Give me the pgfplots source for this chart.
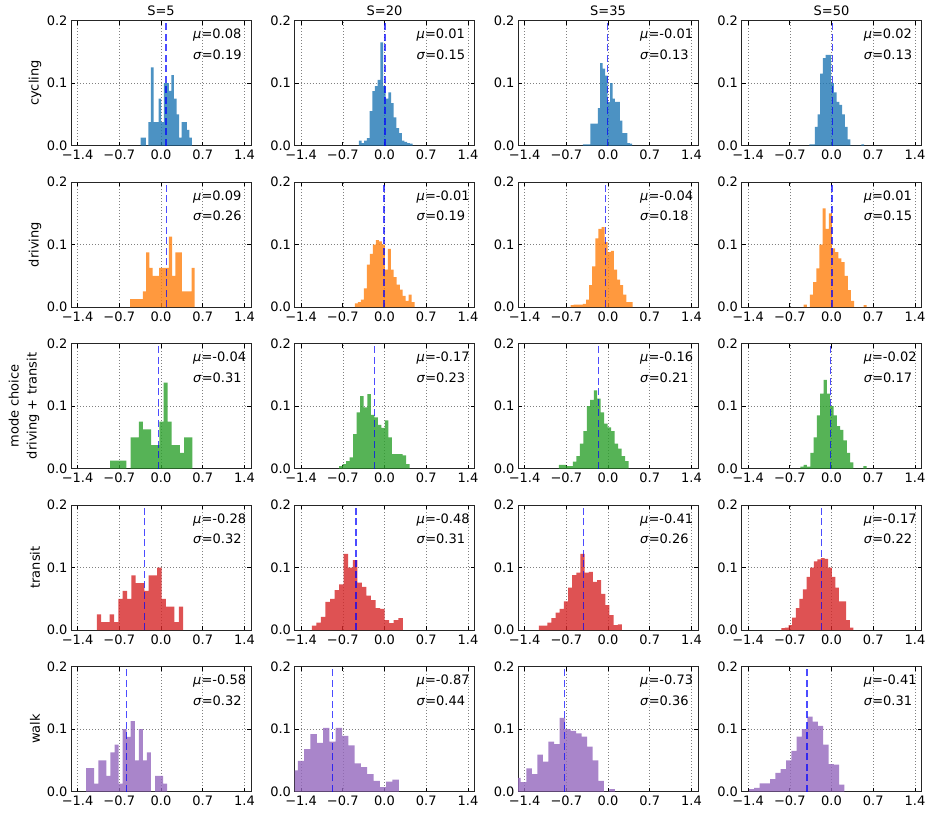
\documentclass[border=0pt]{standalone}
\usepackage{fontspec}
\setmainfont{DejaVu Sans}
\usepackage{pgfplots}
\pgfplotsset{compat=1.18}
\definecolor{C0}{RGB}{31,119,180}
\definecolor{C1}{RGB}{255,127,14}
\definecolor{C2}{RGB}{44,160,44}
\definecolor{C3}{RGB}{214,39,40}
\definecolor{C4}{RGB}{148,103,189}
\newcommand\annfont{\fontsize{13}{15}\selectfont}
\newcommand\labfont{\fontsize{13}{15}\selectfont}
\pgfplotsset{
  hist/.style={
    scale only axis, width=180pt, height=125pt,
    anchor=south west,
    xmin=-1.51, xmax=1.51, ymin=0, ymax=0.2,
    xtick={-1.4,-0.7,0,0.7,1.4},
    xticklabels={−1.4,−0.7,0.0,0.7,1.4},
    ytick={0,0.1,0.2},
    yticklabels={0.0,0.1,0.2},
    tick pos=both, xticklabel pos=bottom, yticklabel pos=left,
    tick align=inside, major tick length=4pt,
    tick style={black, line width=0.7pt},
    axis line style={black!85, line width=0.8pt},
    grid=major,
    major grid style={black!50, line width=0.5pt, dash pattern=on 1pt off 2pt},
    tick label style={font=\labfont},
    xticklabel style={yshift=-1pt},
    clip mode=individual,
  },
  meanline/.style={blue, opacity=0.7, line width=1.5pt, dash pattern=on 7pt off 3.5pt},
}
\newcommand\panel[8]{%
\begin{axis}[hist, at={(#1pt,#2pt)}]
\addplot[ybar interval, fill=#3, fill opacity=0.8, draw=none] coordinates {#4};
\addplot[meanline] coordinates {(#5,0) (#5,0.2)};
\node[anchor=west, font=\annfont, inner sep=0pt] at (rel axis cs:0.678,0.88) {\textit{μ}=#6};
\node[anchor=west, font=\annfont, inner sep=0pt] at (rel axis cs:0.678,0.728) {\textit{σ}=#7};
#8
\end{axis}}
\newcommand\ttl[1]{\node[anchor=south, font=\labfont, inner sep=0pt, yshift=5pt] at (rel axis cs:0.5,1) {#1};}
\newcommand\ylab[1]{\node[rotate=90, font=\labfont] at (rel axis cs:-0.2,0.5) {#1};}
\begin{document}
\begin{tikzpicture}
\path[use as bounding box] (0,0) rectangle (931pt,-812pt);
% ---- row 1: cycling ----
\panel{71}{-145.5}{C0}{(-0.340,0.0125) (-0.297,0.0125) (-0.254,0) (-0.211,0.0375) (-0.168,0.125) (-0.125,0.0375) (-0.082,0.0375) (-0.039,0.075) (0.004,0.0375) (0.047,0.1) (0.089,0.1) (0.132,0.0875) (0.175,0.1125) (0.218,0.075) (0.261,0.05) (0.304,0.0125) (0.347,0.0375) (0.390,0.0375) (0.433,0.025) (0.476,0.0125) (0.519,0)}{0.08}{0.08}{0.19}{\ttl{S=5}\ylab{cycling}}
\panel{294.5}{-145.5}{C0}{(-0.430,0.008) (-0.385,0.004) (-0.340,0.008) (-0.295,0.012) (-0.250,0.055) (-0.205,0.087) (-0.160,0.095) (-0.115,0.105) (-0.070,0.165) (-0.025,0.095) (0.020,0.075) (0.065,0.085) (0.110,0.068) (0.155,0.045) (0.200,0.028) (0.245,0.02) (0.290,0.008) (0.335,0.006) (0.380,0.004) (0.425,0.003) (0.470,0)}{0.01}{0.01}{0.15}{\ttl{S=20}}
\panel{518}{-145.5}{C0}{(-0.420,0.002) (-0.379,0.002) (-0.337,0.002) (-0.296,0.035) (-0.255,0.035) (-0.213,0.035) (-0.172,0.06) (-0.131,0.132) (-0.090,0.123) (-0.048,0.112) (-0.007,0.07) (0.034,0.1) (0.076,0.075) (0.117,0.07) (0.158,0.07) (0.200,0.04) (0.241,0.02) (0.282,0.02) (0.323,0.004) (0.365,0.003) (0.406,0)}{-0.01}{-0.01}{0.13}{\ttl{S=35}}
\panel{741.5}{-145.5}{C0}{(-0.373,0.002) (-0.327,0.002) (-0.281,0.03) (-0.235,0.05) (-0.189,0.115) (-0.143,0.14) (-0.097,0.145) (-0.051,0.145) (-0.005,0.1) (0.041,0.085) (0.087,0.07) (0.133,0.065) (0.179,0.05) (0.225,0.03) (0.271,0.01) (0.317,0) (0.363,0) (0.409,0) (0.455,0) (0.501,0.002) (0.547,0)}{0.02}{0.02}{0.13}{\ttl{S=50}}
% ---- row 2: driving ----
\panel{71}{-307}{C1}{(-0.520,0.0125) (-0.466,0.0125) (-0.411,0.0125) (-0.357,0.0125) (-0.303,0.025) (-0.249,0.0875) (-0.194,0.0625) (-0.140,0.05) (-0.086,0.05) (-0.031,0.0625) (0.023,0.0625) (0.077,0.0625) (0.132,0.1125) (0.186,0.05) (0.240,0.0875) (0.295,0.0875) (0.349,0.025) (0.403,0.025) (0.457,0.025) (0.512,0.0625) (0.566,0)}{0.09}{0.09}{0.26}{\ylab{driving}}
\panel{294.5}{-307}{C1}{(-0.496,0.006) (-0.446,0.008) (-0.396,0.012) (-0.346,0.03) (-0.296,0.068) (-0.246,0.085) (-0.195,0.1) (-0.145,0.107) (-0.095,0.105) (-0.045,0.1) (0.005,0.06) (0.055,0.093) (0.105,0.06) (0.155,0.048) (0.205,0.036) (0.256,0.028) (0.306,0.018) (0.356,0.01) (0.406,0.02) (0.456,0.008) (0.506,0)}{-0.01}{-0.01}{0.19}{}
\panel{518}{-307}{C1}{(-0.629,0.003) (-0.577,0.004) (-0.525,0.004) (-0.473,0.004) (-0.421,0.005) (-0.369,0.012) (-0.317,0.035) (-0.265,0.065) (-0.213,0.11) (-0.161,0.125) (-0.109,0.128) (-0.057,0.104) (-0.005,0.088) (0.047,0.09) (0.099,0.06) (0.151,0.044) (0.203,0.035) (0.255,0.02) (0.307,0.008) (0.359,0.008) (0.411,0)}{-0.04}{-0.04}{0.18}{}
\panel{741.5}{-307}{C1}{(-0.468,0.004) (-0.415,0) (-0.362,0.02) (-0.309,0.04) (-0.256,0.062) (-0.204,0.1) (-0.151,0.158) (-0.098,0.125) (-0.045,0.15) (0.008,0.094) (0.061,0.088) (0.114,0.078) (0.167,0.072) (0.220,0.05) (0.273,0.027) (0.326,0.01) (0.378,0) (0.431,0) (0.484,0) (0.537,0.003) (0.590,0)}{0.01}{0.01}{0.15}{}
% ---- row 3: driving + transit ----
\panel{71}{-468.5}{C2}{(-0.855,0.0125) (-0.786,0.0125) (-0.717,0.0125) (-0.648,0.0125) (-0.579,0) (-0.510,0.05) (-0.441,0.05) (-0.372,0.075) (-0.303,0.0625) (-0.234,0.0625) (-0.165,0.0375) (-0.096,0.0375) (-0.027,0.075) (0.042,0.1375) (0.111,0.075) (0.180,0.0375) (0.249,0.0375) (0.318,0.025) (0.387,0.05) (0.456,0.05) (0.525,0)}{-0.04}{-0.04}{0.31}{\node[rotate=90, font=\labfont] at (rel axis cs:-0.2105,0.5) {driving + transit};\node[rotate=90, font=\labfont] at (rel axis cs:-0.318,0.5) {mode choice};}
\panel{294.5}{-468.5}{C2}{(-0.763,0.004) (-0.704,0.007) (-0.645,0.012) (-0.585,0.018) (-0.526,0.055) (-0.467,0.09) (-0.408,0.116) (-0.349,0.098) (-0.289,0.119) (-0.230,0.086) (-0.171,0.082) (-0.112,0.07) (-0.053,0.065) (0.007,0.077) (0.066,0.05) (0.125,0.023) (0.184,0.023) (0.243,0.023) (0.303,0.021) (0.362,0.007) (0.421,0)}{-0.17}{-0.17}{0.23}{}
\panel{518}{-468.5}{C2}{(-0.824,0.006) (-0.766,0.006) (-0.707,0.004) (-0.649,0.004) (-0.590,0.011) (-0.532,0.02) (-0.473,0.04) (-0.415,0.06) (-0.356,0.1) (-0.298,0.11) (-0.239,0.125) (-0.181,0.112) (-0.122,0.09) (-0.064,0.072) (-0.005,0.066) (0.054,0.06) (0.112,0.04) (0.171,0.032) (0.229,0.02) (0.288,0.012) (0.346,0)}{-0.16}{-0.16}{0.21}{}
\panel{741.5}{-468.5}{C2}{(-0.523,0.003) (-0.467,0.006) (-0.412,0.003) (-0.356,0.025) (-0.300,0.05) (-0.245,0.085) (-0.189,0.12) (-0.133,0.142) (-0.077,0.12) (-0.022,0.1) (0.034,0.085) (0.090,0.068) (0.145,0.062) (0.201,0.045) (0.257,0.025) (0.313,0.01) (0.368,0) (0.424,0) (0.480,0) (0.535,0.004) (0.591,0)}{-0.02}{-0.02}{0.17}{}
% ---- row 4: transit ----
\panel{71}{-630}{C3}{(-1.077,0.025) (-1.005,0.0125) (-0.932,0.0125) (-0.860,0.025) (-0.788,0.0125) (-0.715,0.05) (-0.643,0.0625) (-0.570,0.05) (-0.498,0.0875) (-0.425,0.075) (-0.353,0.075) (-0.281,0.0625) (-0.208,0.0875) (-0.136,0.0875) (-0.063,0.1) (0.009,0.05) (0.081,0.0375) (0.154,0.0375) (0.226,0.0125) (0.299,0.0375) (0.371,0)}{-0.28}{-0.28}{0.32}{\ylab{transit}}
\panel{294.5}{-630}{C3}{(-1.219,0.007) (-1.143,0.012) (-1.066,0.021) (-0.990,0.045) (-0.914,0.05) (-0.838,0.064) (-0.761,0.073) (-0.685,0.122) (-0.609,0.1) (-0.532,0.112) (-0.456,0.076) (-0.380,0.069) (-0.303,0.055) (-0.227,0.048) (-0.151,0.035) (-0.075,0.034) (0.002,0.016) (0.078,0.011) (0.154,0.016) (0.231,0.019) (0.307,0)}{-0.48}{-0.48}{0.31}{}
\panel{518}{-630}{C3}{(-1.158,0.007) (-1.088,0.007) (-1.019,0.012) (-0.949,0.019) (-0.880,0.028) (-0.810,0.034) (-0.740,0.046) (-0.671,0.068) (-0.601,0.088) (-0.532,0.092) (-0.462,0.122) (-0.392,0.092) (-0.323,0.093) (-0.253,0.077) (-0.184,0.08) (-0.114,0.058) (-0.044,0.04) (0.025,0.024) (0.095,0.008) (0.164,0.009) (0.234,0)}{-0.41}{-0.41}{0.26}{}
\panel{741.5}{-630}{C3}{(-0.841,0.003) (-0.781,0.004) (-0.720,0.008) (-0.660,0.02) (-0.599,0.035) (-0.539,0.05) (-0.479,0.065) (-0.418,0.085) (-0.358,0.1) (-0.297,0.11) (-0.237,0.113) (-0.177,0.115) (-0.116,0.114) (-0.056,0.1) (0.005,0.085) (0.065,0.068) (0.125,0.046) (0.186,0.046) (0.246,0.016) (0.307,0.004) (0.367,0)}{-0.17}{-0.17}{0.22}{}
% ---- row 5: walk ----
\panel{71}{-791.5}{C4}{(-1.256,0.0375) (-1.188,0.0375) (-1.120,0.0125) (-1.052,0.05) (-0.984,0.05) (-0.916,0.025) (-0.848,0.0625) (-0.780,0.075) (-0.712,0.0125) (-0.644,0.1) (-0.576,0.0875) (-0.508,0.1125) (-0.440,0.05) (-0.372,0.1) (-0.304,0.05) (-0.236,0.0625) (-0.168,0) (-0.100,0.025) (-0.032,0.025) (0.036,0.0125) (0.104,0)}{-0.58}{-0.58}{0.32}{\ylab{walk}}
\panel{294.5}{-791.5}{C4}{(-1.876,0.005) (-1.770,0.01) (-1.665,0.015) (-1.559,0.034) (-1.453,0.049) (-1.347,0.068) (-1.242,0.092) (-1.136,0.078) (-1.030,0.102) (-0.924,0.08) (-0.818,0.102) (-0.713,0.089) (-0.607,0.074) (-0.501,0.045) (-0.395,0.039) (-0.290,0.028) (-0.184,0.017) (-0.078,0.007) (0.028,0.016) (0.134,0.019) (0.239,0)}{-0.87}{-0.87}{0.44}{}
\panel{518}{-791.5}{C4}{(-1.650,0.01) (-1.557,0.022) (-1.464,0.015) (-1.371,0.037) (-1.278,0.028) (-1.185,0.059) (-1.092,0.048) (-0.999,0.08) (-0.906,0.076) (-0.813,0.118) (-0.720,0.1) (-0.628,0.097) (-0.535,0.093) (-0.442,0.088) (-0.349,0.072) (-0.256,0.05) (-0.163,0.017) (-0.070,0) (0.023,0.004) (0.116,0)}{-0.73}{-0.73}{0.36}{}
\panel{741.5}{-791.5}{C4}{(-1.386,0.004) (-1.297,0.006) (-1.208,0.013) (-1.119,0.013) (-1.030,0.02) (-0.941,0.03) (-0.852,0.036) (-0.763,0.05) (-0.674,0.065) (-0.585,0.088) (-0.496,0.1) (-0.406,0.12) (-0.317,0.112) (-0.228,0.105) (-0.139,0.075) (-0.050,0.044) (0.039,0.043) (0.128,0.011) (0.217,0)}{-0.41}{-0.41}{0.31}{}
\end{tikzpicture}
\end{document}
